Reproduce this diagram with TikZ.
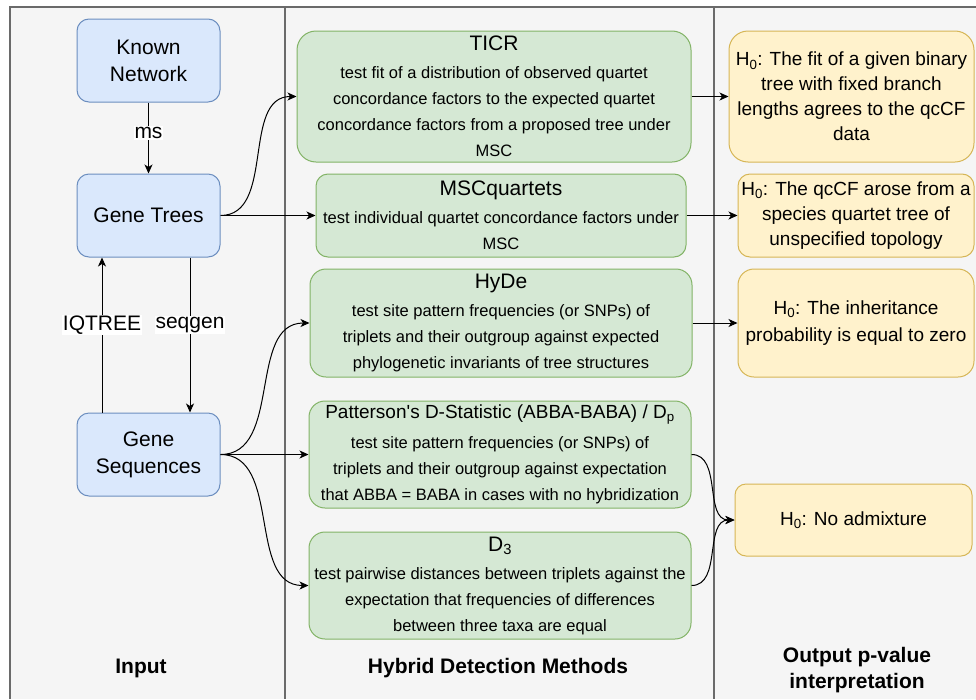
\documentclass[tikz,border=0pt]{standalone}
\usepackage{fontspec}
\setmainfont{Liberation Sans}
\usetikzlibrary{arrows.meta,fit}
\definecolor{bgc}{HTML}{F5F5F5}
\definecolor{framec}{HTML}{6A6A6A}
\definecolor{blueF}{HTML}{DAE8FC}
\definecolor{blueS}{HTML}{6C8EBF}
\definecolor{greenF}{HTML}{D5E8D4}
\definecolor{greenS}{HTML}{82B366}
\definecolor{yelF}{HTML}{FFF2CC}
\definecolor{yelS}{HTML}{D6B656}
\newcommand\boxtitle[1]{{\fontsize{21}{26}\selectfont #1}}
\begin{document}
\begin{tikzpicture}[x=1pt,y=-1pt,
  bluebox/.style={draw=blueS, fill=blueF, line width=1pt, rounded corners=12pt, inner sep=0pt, align=center, font=\fontsize{21}{27}\selectfont},
  greenbox/.style={draw=greenS, fill=greenF, line width=1pt, inner sep=0pt, align=center, font=\fontsize{16.5}{26}\selectfont},
  yelbox/.style={draw=yelS, fill=yelF, line width=1pt, inner sep=0pt, align=center, font=\fontsize{19}{25}\selectfont},
  conn/.style={draw=black, line width=1pt, -{Stealth[length=9pt,width=8pt,inset=2.5pt]}},
  lbl/.style={fill=white, inner sep=1pt, font=\fontsize{21}{25}\selectfont},
  coltitle/.style={font=\bfseries\fontsize{21}{26}\selectfont, align=center},
  frameline/.style={draw=framec, line width=1.3pt}]
\useasboundingbox (0,0) rectangle (976,699);
% background frame
\fill[bgc] (10,7) rectangle (976,699);
\draw[frameline] (10,699) -- (10,7) -- (976,7);
\draw[frameline] (285,7) -- (285,699);
\draw[frameline] (714,7) -- (714,699);
% column titles
\node[coltitle] (tin) at (141,668) {Input};
\node[coltitle] (thd) at (498,668) {Hybrid Detection Methods};
\node[coltitle] (tout) at (857,670) {Output p-value\\interpretation};
% input nodes
\node[bluebox, fit={(77,19) (220,102)}] (kn) {};
\node[font=\fontsize{21}{27}\selectfont, align=center] (knt) at (kn.center) {Known\\Network};
\node[bluebox, fit={(77,174) (220,257)}] (gt) {};
\node[font=\fontsize{21}{27}\selectfont] (gtt) at (gt.center) {Gene Trees};
\node[bluebox, fit={(77,413) (220,496)}] (gs) {};
\node[font=\fontsize{21}{27}\selectfont, align=center] (gst) at (gs.center) {Gene\\Sequences};
% methods
\node[greenbox, rounded corners=19pt, fit={(297,31) (691,162)}] (ticr) {};
\node[font=\fontsize{16.5}{26}\selectfont, align=center] (ticrt) at (ticr.center) {\boxtitle{TICR}\\[2pt]test fit of a distribution of observed quartet\\concordance factors to the expected quartet\\concordance factors from a proposed tree under\\MSC};
\node[greenbox, rounded corners=12pt, fit={(316,174) (686,257)}] (msc) {};
\node[font=\fontsize{16.5}{26}\selectfont, align=center] (msct) at (msc.center) {\boxtitle{MSCquartets}\\[2pt]test individual quartet concordance factors under\\MSC};
\node[greenbox, rounded corners=16pt, fit={(310,269) (692,377)}] (hyde) {};
\node[font=\fontsize{16.5}{26}\selectfont, align=center] (hydet) at (hyde.center) {\boxtitle{HyDe}\\[2pt]test site pattern frequencies (or SNPs) of\\triplets and their outgroup against expected\\phylogenetic invariants of tree structures};
\node[greenbox, rounded corners=16pt, fit={(309,401) (691,508)}] (pd) {};
\node[font=\fontsize{16.5}{26}\selectfont, align=center] (pdt) at (pd.center) {{\fontsize{19}{24}\selectfont Patterson\textquotesingle s D-Statistic (ABBA-BABA) / D\textsubscript{p}}\\[4pt]test site pattern frequencies (or SNPs) of\\triplets and their outgroup against expectation\\that ABBA = BABA in cases with no hybridization};
\node[greenbox, rounded corners=16pt, fit={(309,532) (691,639)}] (d3) {};
\node[font=\fontsize{16.5}{26}\selectfont, align=center] (d3t) at (d3.center) {\boxtitle{D\textsubscript{3}}\\[2pt]test pairwise distances between triplets against the\\expectation that frequencies of differences\\between three taxa are equal};
% hypotheses
\node[yelbox, rounded corners=19pt, fit={(729,31) (974,162)}] (h1) {};
\node[font=\fontsize{19}{25}\selectfont, align=center] (h1t) at (h1.center) {H\textsubscript{0}: The fit of a given binary\\tree with fixed branch\\lengths agrees to the qcCF\\data};
\node[yelbox, rounded corners=12pt, fit={(738,174) (974,257)}] (h2) {};
\node[font=\fontsize{19}{25}\selectfont, align=center] (h2t) at (h2.center) {H\textsubscript{0}: The qcCF arose from a\\species quartet tree of\\unspecified topology};
\node[yelbox, rounded corners=16pt, fit={(738,269) (974,377)}] (h3) {};
\node[font=\fontsize{19}{27}\selectfont, align=center] (h3t) at (h3.center) {H\textsubscript{0}: The inheritance\\probability is equal to zero};
\node[yelbox, rounded corners=11pt, fit={(735,484) (972,556)}] (h4) {};
\node[font=\fontsize{19}{25}\selectfont, align=center] (h4t) at (h4.center) {H\textsubscript{0}: No admixture};
% connectors left column
\coordinate (iqx) at (102,0);
\coordinate (sgx) at (190,0);
\draw[conn] (kn) -- node[lbl, pos=0.43] (ms) {ms} (gt);
\draw[conn] (gs.north -| iqx) -- node[lbl, pos=0.564] (iq) {IQTREE} (gt.south -| iqx);
\draw[conn] (gt.south -| sgx) -- node[lbl, pos=0.436] (sg) {seqgen} (gs.north -| sgx);
% to methods
\draw[conn] (gt.east) to[out=0,in=180] (ticr.west);
\draw[conn] (gt.east) -- (gt.east -| msc.west);
\draw[conn] (gs.east) to[out=0,in=180] (hyde.west);
\draw[conn] (gs.east) -- (gs.east -| pd.west);
\draw[conn] (gs.east) to[out=0,in=180] (d3.west);
% to hypotheses
\draw[conn] (ticr.east) -- (ticr.east -| h1.west);
\draw[conn] (msc.east) -- (msc.east -| h2.west);
\draw[conn] (hyde.east) -- (hyde.east -| h3.west);
\draw[conn] (pd.east) to[out=0,in=180] (h4.west);
\draw[conn] (d3.east) to[out=0,in=180] (h4.west);
\end{tikzpicture}
\end{document}
